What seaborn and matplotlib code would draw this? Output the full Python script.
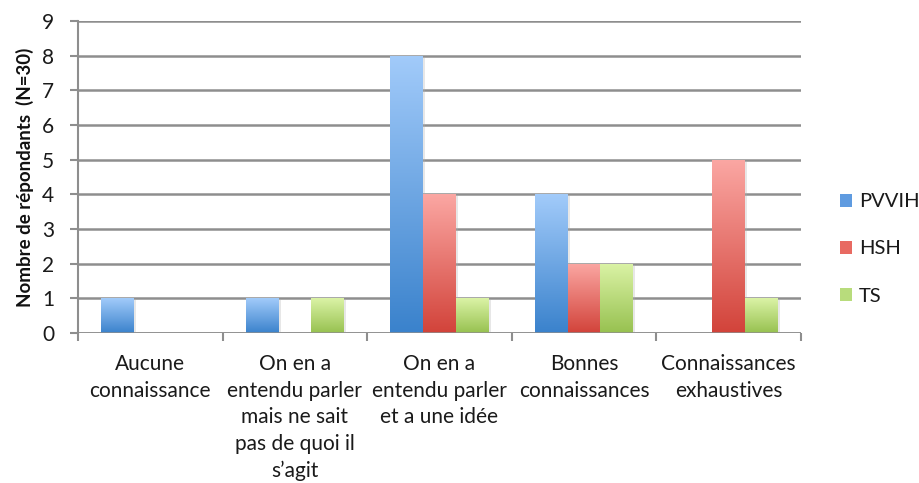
import numpy as np
import pandas as pd
import matplotlib
matplotlib.use("Agg")
import matplotlib.pyplot as plt
import seaborn as sns
from matplotlib.colors import to_rgba
from matplotlib.patches import Patch
import matplotlib.patheffects as pe

# ---- data ----
categories = [
    "Aucune\nconnaissance",
    "On en a\nentendu parler\nmais ne sait\npas de quoi il\ns\u2019agit",
    "On en a\nentendu parler\net a une idée",
    "Bonnes\nconnaissances",
    "Connaissances\nexhaustives",
]
series = ["PVVIH", "HSH", "TS"]
pvvih = [1, 1, 8, 4, 0]
hsh = [0, 0, 4, 2, 5]
ts = [0, 1, 1, 2, 1]
y_ticks = [0, 1, 2, 3, 4, 5, 6, 7, 8, 9]
y_label = "Nombre de répondants  (N=30)"

# ---- styles ----
base_colors = {"PVVIH": "#5f9be0", "HSH": "#e86a62", "TS": "#b8dc7c"}
grad = {
    "PVVIH": ("#a2cbfa", "#3a82cc"),
    "HSH": ("#fba7a3", "#d2433a"),
    "TS": ("#dbf3a6", "#97c150"),
}

df = pd.DataFrame({
    "cat": np.repeat(categories, len(series)),
    "serie": series * len(categories),
    "val": [v for trio in zip(pvvih, hsh, ts) for v in trio],
})

sns.set_theme(style="white")
plt.rcParams["font.family"] = ["Lato", "DejaVu Sans"]

fig = plt.figure(figsize=(9.2, 4.83), dpi=100)
ax = fig.add_axes([78 / 920, 1 - 333 / 483, (801 - 78) / 920, (333 - 21) / 483])

sns.barplot(data=df, x="cat", y="val", hue="serie", hue_order=series,
            palette=base_colors, width=0.68, gap=0, ax=ax, legend=False,
            saturation=1, order=categories)

# gradient fills
lookup = {tuple(np.round(to_rgba(c), 3)): s for s, c in base_colors.items()}
for p in list(ax.patches):
    fc = tuple(np.round(p.get_facecolor(), 3))
    s = lookup.get(fc)
    h = p.get_height()
    if s is None or h <= 0:
        p.set_visible(False)
        continue
    x0 = p.get_x()
    w = p.get_width()
    top = np.array(to_rgba(grad[s][0]))
    bot = np.array(to_rgba(grad[s][1]))
    t = np.linspace(0, 1, 256)[:, None]
    img = (bot[None, :] * (1 - t) + top[None, :] * t)[:, None, :]
    p.set_facecolor("white")
    p.set_edgecolor("none")
    p.set_zorder(2)
    p.set_path_effects([pe.SimplePatchShadow(offset=(1.5, -1), shadow_rgbFace="#b0b0b0", alpha=0.3),
                        pe.Normal()])
    im = ax.imshow(img, extent=[x0, x0 + w, 0, h], origin="lower", aspect="auto",
                   zorder=2.5, interpolation="bilinear")
    im.set_clip_path(p)

ax.set_xlim(-0.5, len(categories) - 0.5)
ax.set_ylim(0, 9)
ax.set_yticks(y_ticks)
ax.set_yticklabels([str(v) for v in y_ticks])

# gridlines
for v in y_ticks:
    ax.axhline(v, color="#8e8e8e", lw=1.8, zorder=1)

for sp in ["top", "right", "bottom"]:
    ax.spines[sp].set_visible(False)
ax.spines["left"].set_color("#8e8e8e")
ax.spines["left"].set_linewidth(1.5)
ax.axhline(0, color="#8e8e8e", lw=1.8, zorder=3)

ax.tick_params(axis="y", which="major", left=True, length=6, width=1.5, color="#8e8e8e",
               pad=11, labelsize=15, labelcolor="#1a1a1a")
ax.set_xticks(range(len(categories)))
ax.set_xticklabels(categories, linespacing=1.42)
ax.tick_params(axis="x", which="major", bottom=False, length=0, pad=15,
               labelsize=15, labelcolor="#1a1a1a")
ax.set_xticks(np.arange(-0.5, len(categories), 1.0), minor=True)
ax.tick_params(axis="x", which="minor", bottom=True, length=6, width=1.5, color="#8e8e8e")
for lbl in ax.get_xticklabels():
    lbl.set_verticalalignment("top")

ax.set_xlabel("")
ax.set_ylabel(y_label, fontsize=13.5, fontweight="bold", color="#111111", labelpad=6)

handles = [Patch(facecolor=base_colors[s], edgecolor="none", label=s) for s in series]
fig.legend(handles=handles, loc="center left", bbox_to_anchor=(840 / 920, 1 - 249 / 483),
           frameon=False, fontsize=14.5, handlelength=0.6, handleheight=0.6,
           handletextpad=0.35, labelspacing=1.5, labelcolor="#1a1a1a",
           borderpad=0, borderaxespad=0)

fig.savefig("out.png", dpi=100)
